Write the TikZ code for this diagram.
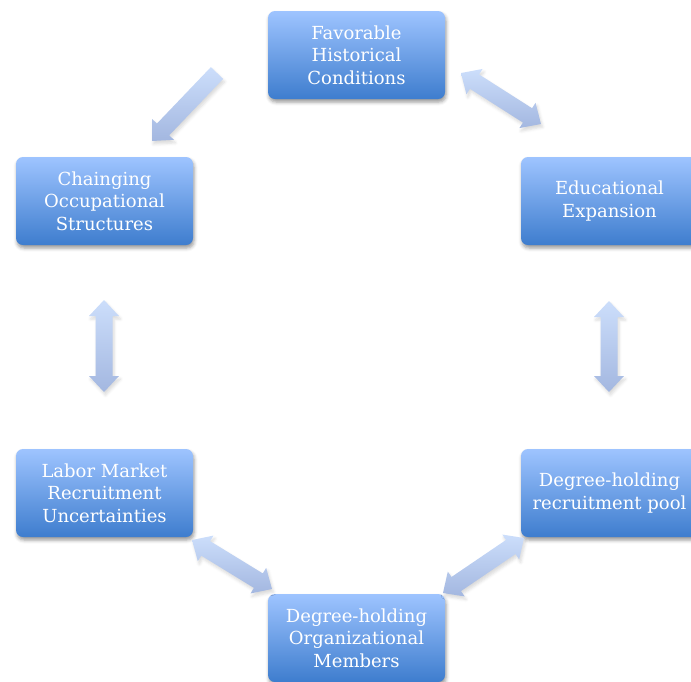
\documentclass[tikz,border=0pt]{standalone}
\usepackage{fontspec}
\setmainfont{DejaVu Serif}
\usepackage{xcolor}
\usepackage{tikz}
\usetikzlibrary{calc,shadows.blur}
\definecolor{boxtop}{RGB}{158,196,255}
\definecolor{boxbot}{RGB}{62,125,206}
\definecolor{arrtop}{RGB}{204,222,251}
\definecolor{arrbot}{RGB}{163,183,224}

\tikzset{
    stage/.style={rounded corners=7pt, minimum width=177pt, minimum height=88pt,
        align=center, text=white, top color=boxtop, bottom color=boxbot,
        font=\fontsize{18}{22.5}\selectfont,
        blur shadow={shadow xshift=1pt, shadow yshift=-3pt, shadow blur radius=3.5pt, shadow opacity=40}},
    link/.style={top color=arrtop, bottom color=arrbot,
        blur shadow={shadow xshift=1.5pt, shadow yshift=-3pt, shadow blur radius=3pt, shadow opacity=15}}
}

% block arrow with a head at both ends
\newcommand\bothways[2]{%
    \coordinate (h1) at ($(#1)!16pt!(#2)$);
    \coordinate (h2) at ($(#2)!16pt!(#1)$);
    \shade[link] (#1) -- ($(h1)!15pt!90:(#2)$) -- ($(h1)!8.5pt!90:(#2)$)
        -- ($(h2)!8.5pt!-90:(#1)$) -- ($(h2)!15pt!-90:(#1)$) -- (#2)
        -- ($(h2)!15pt!90:(#1)$) -- ($(h2)!8.5pt!90:(#1)$)
        -- ($(h1)!8.5pt!-90:(#2)$) -- ($(h1)!15pt!-90:(#2)$) -- cycle;
}
% block arrow from #1 to #2
\newcommand\oneway[2]{%
    \coordinate (h1) at ($(#2)!16pt!(#1)$);
    \shade[link] ($(#1)!8.5pt!90:(#2)$) -- ($(h1)!8.5pt!-90:(#1)$) -- ($(h1)!15pt!-90:(#1)$)
        -- (#2) -- ($(h1)!15pt!90:(#1)$) -- ($(h1)!8.5pt!90:(#1)$)
        -- ($(#1)!8.5pt!-90:(#2)$) -- cycle;
}

\begin{document}
\begin{tikzpicture}[x=1pt, y=-1pt]
    \clip (0,0) rectangle (691,681);

    % boxes
    \node[stage] (hist) at (356.5,55) {Favorable\\Historical\\Conditions};
    \node[stage] (occ)  at (104.5,201) {Chainging\\Occupational\\Structures};
    \node[stage] (edu)  at (609.5,201) {Educational\\Expansion};
    \node[stage] (labor) at (104.5,493) {Labor Market\\Recruitment\\Uncertainties};
    \node[stage] (pool) at (609.5,493) {Degree-holding\\recruitment pool};
    \node[stage] (memb) at (356.5,638) {Degree-holding\\Organizational\\Members};

    % arrow ends
    \coordinate (hist-occ)  at (217,73);
    \coordinate (occ-hist)  at (152,141);
    \coordinate (hist-edu)  at (461,73);
    \coordinate (edu-hist)  at (541,124);
    \coordinate (occ-labor) at (104,300);
    \coordinate (labor-occ) at (104,392);
    \coordinate (edu-pool)  at (609,301);
    \coordinate (pool-edu)  at (609,392);
    \coordinate (labor-memb) at (192,540);
    \coordinate (memb-labor) at (272,589);
    \coordinate (pool-memb) at (524,538);
    \coordinate (memb-pool) at (443,593);

    % arrows
    \oneway{hist-occ}{occ-hist}
    \bothways{hist-edu}{edu-hist}
    \bothways{occ-labor}{labor-occ}
    \bothways{edu-pool}{pool-edu}
    \bothways{labor-memb}{memb-labor}
    \bothways{pool-memb}{memb-pool}
\end{tikzpicture}
\end{document}
